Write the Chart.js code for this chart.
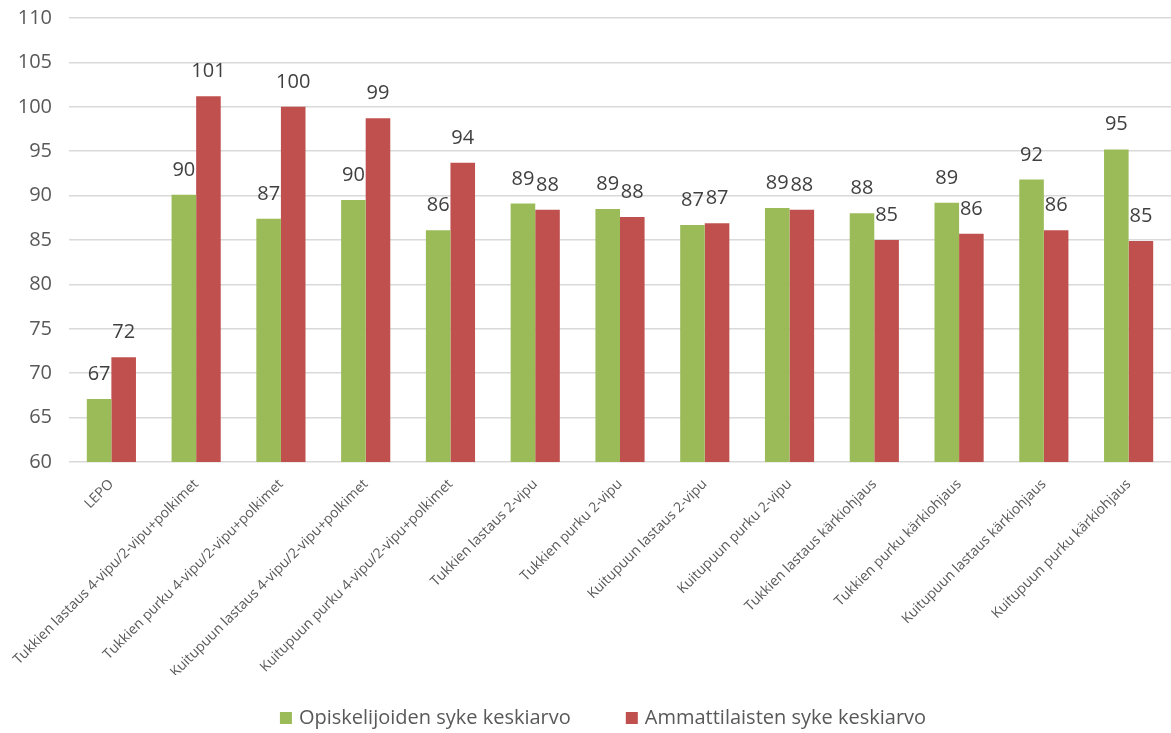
<!DOCTYPE html>
<html lang="fi">
<head>
<meta charset="utf-8">
<script src="https://cdn.jsdelivr.net/npm/chart.js@4"></script>
<style>
  html, body { margin: 0; padding: 0; background: #fff; }
  #wrap { width: 1171px; height: 733px; }
</style>
</head>
<body>
<div id="wrap"><canvas id="sykeKaavio"></canvas></div>
<script>
// Työvaiheet
const vaiheet = [
  'LEPO',
  'Tukkien lastaus 4-vipu/2-vipu+polkimet',
  'Tukkien purku 4-vipu/2-vipu+polkimet',
  'Kuitupuun lastaus 4-vipu/2-vipu+polkimet',
  'Kuitupuun purku 4-vipu/2-vipu+polkimet',
  'Tukkien lastaus 2-vipu',
  'Tukkien purku 2-vipu',
  'Kuitupuun lastaus 2-vipu',
  'Kuitupuun purku 2-vipu',
  'Tukkien lastaus kärkiohjaus',
  'Tukkien purku kärkiohjaus',
  'Kuitupuun lastaus kärkiohjaus',
  'Kuitupuun purku kärkiohjaus'
];

// Sykkeen keskiarvot (lyöntiä/min)
const opiskelijat = [67.1, 90.1, 87.4, 89.5, 86.1, 89.1, 88.5, 86.7, 88.6, 88.0, 89.2, 91.8, 95.2];
const ammattilaiset = [71.8, 101.2, 100.0, 98.7, 93.7, 88.4, 87.6, 86.9, 88.4, 85.0, 85.7, 86.1, 84.9];

const yMin = 60, yMax = 110, yAskel = 5;

const fontti = "'Open Sans', 'DejaVu Sans', sans-serif";

// Arvot pylväiden yläpuolelle
const arvoTekstit = {
  id: 'arvoTekstit',
  afterDatasetsDraw(chart) {
    const c = chart.ctx;
    c.save();
    c.font = '20px ' + fontti;
    c.fillStyle = '#404040';
    c.textAlign = 'center';
    c.textBaseline = 'alphabetic';
    chart.data.datasets.forEach((ds, i) => {
      chart.getDatasetMeta(i).data.forEach((bar, j) => {
        c.fillText(String(Math.round(ds.data[j])), bar.x, bar.y - 19);
      });
    });
    c.restore();
  }
};

// Oma selite alareunaan (isompi väli sarjojen välillä kuin oletusselitteessä)
const selite = {
  id: 'selite',
  afterDraw(chart) {
    const c = chart.ctx;
    const laatikko = 12, vali = 7, sarjaVali = 55;
    const y = chart.height - 15;
    c.save();
    c.font = '20px ' + fontti;
    c.textBaseline = 'middle';
    const leveydet = chart.data.datasets.map(ds => laatikko + vali + c.measureText(ds.label).width);
    const yhteensa = leveydet.reduce((a, b) => a + b, 0) + sarjaVali * (leveydet.length - 1);
    let x = (chart.chartArea.left + chart.chartArea.right) / 2 - yhteensa / 2 - 17;
    chart.data.datasets.forEach((ds, i) => {
      c.fillStyle = ds.backgroundColor;
      c.fillRect(x, y - laatikko / 2, laatikko, laatikko);
      c.fillStyle = '#595959';
      c.fillText(ds.label, x + laatikko + vali, y);
      x += leveydet[i] + sarjaVali;
    });
    c.restore();
  }
};

new Chart(document.getElementById('sykeKaavio'), {
  type: 'bar',
  data: {
    labels: vaiheet,
    datasets: [
      {
        label: 'Opiskelijoiden syke keskiarvo',
        data: opiskelijat,
        backgroundColor: '#9BBB59',
        categoryPercentage: 0.58,
        barPercentage: 1
      },
      {
        label: 'Ammattilaisten syke keskiarvo',
        data: ammattilaiset,
        backgroundColor: '#C0504D',
        categoryPercentage: 0.58,
        barPercentage: 1
      }
    ]
  },
  options: {
    responsive: true,
    maintainAspectRatio: false,
    animation: false,
    layout: { padding: { top: 18, right: 0, bottom: 58, left: 0 } },
    plugins: {
      tooltip: { enabled: false },
      legend: { display: false }
    },
    scales: {
      x: {
        grid: { display: false },
        border: { display: false },
        ticks: {
          font: { family: fontti, size: 14 },
          color: '#595959',
          minRotation: 45,
          maxRotation: 45,
          autoSkip: false,
          padding: 6
        },
        afterFit(scale) { scale.height = 213; }
      },
      y: {
        min: yMin,
        max: yMax,
        border: { display: false },
        grid: {
          color: '#D9D9D9',
          lineWidth: 1.5,
          drawTicks: true,
          tickLength: 17,
          tickColor: 'rgba(0,0,0,0)'
        },
        ticks: {
          stepSize: yAskel,
          font: { family: fontti, size: 20 },
          color: '#595959',
          padding: 0
        },
        afterFit(scale) { scale.width = 69; }
      }
    }
  },
  plugins: [arvoTekstit, selite]
});
</script>
</body>
</html>
